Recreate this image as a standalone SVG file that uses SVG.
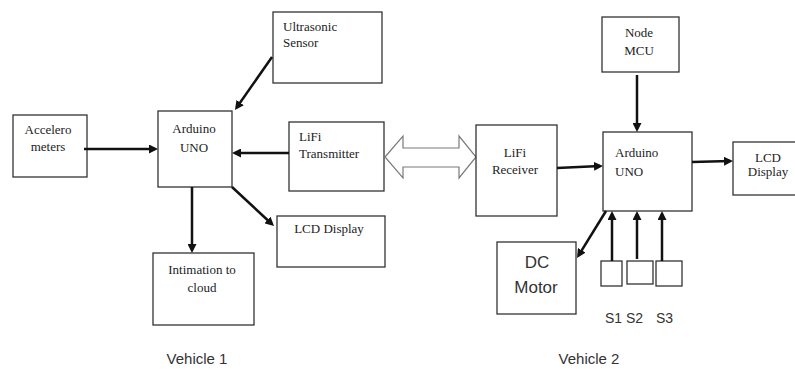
<svg xmlns="http://www.w3.org/2000/svg" width="795" height="369" viewBox="0 0 795 369">
<style>
.box{fill:#fff;stroke:#333;stroke-width:1.3}
.t{font-family:"Liberation Serif","Times New Roman",serif;font-size:13px;fill:#222}
.c{text-anchor:middle}
.s{font-family:"Liberation Sans",Arial,sans-serif;fill:#333}
.ln{stroke:#111;stroke-width:2.5;fill:none;marker-end:url(#ah)}
</style>
<defs>
<marker id="ah" markerUnits="userSpaceOnUse" viewBox="0 0 9 9" markerWidth="9" markerHeight="9" refX="6" refY="4.5" orient="auto">
<path d="M0,0 L9,4.5 L0,9 z" fill="#111"/>
</marker>
</defs>
<rect width="795" height="369" fill="#fff"/>

<g id="accelerometers">
<rect class="box" x="13" y="115" width="74" height="62"/>
<text class="t c" x="48" y="134">Accelero</text>
<text class="t c" x="48" y="151">meters</text>
</g>
<g id="arduino1">
<rect class="box" x="158" y="111" width="74" height="76"/>
<text class="t c" x="194" y="133">Arduino</text>
<text class="t c" x="194" y="152">UNO</text>
</g>
<g id="ultrasonic">
<rect class="box" x="273" y="12" width="109" height="71"/>
<text class="t" x="283" y="31">Ultrasonic</text>
<text class="t" x="283" y="47">Sensor</text>
</g>
<g id="lifi-tx">
<rect class="box" x="289" y="122" width="95" height="69"/>
<text class="t" x="299" y="141">LiFi</text>
<text class="t" x="299" y="158">Transmitter</text>
</g>
<g id="lcd1">
<rect class="box" x="277" y="216" width="108" height="51"/>
<text class="t c" x="329" y="233">LCD Display</text>
</g>
<g id="intimation">
<rect class="box" x="153" y="253" width="101" height="72"/>
<text class="t c" x="202" y="274">Intimation to</text>
<text class="t c" x="202" y="292">cloud</text>
</g>
<g id="lifi-link">
<polygon points="385,157 403,136 403,148 459,148 459,136 476,157 459,178 459,167 403,167 403,178" fill="#fff" stroke="#7a7a7a" stroke-width="1.2"/>
</g>
<g id="lifi-rx">
<rect class="box" x="476" y="125" width="81" height="91"/>
<text class="t c" x="515" y="157">LiFi</text>
<text class="t c" x="515" y="174">Receiver</text>
</g>
<g id="nodemcu">
<rect class="box" x="602" y="17" width="77" height="55"/>
<text class="t c" x="639" y="37">Node</text>
<text class="t c" x="639" y="55">MCU</text>
</g>
<g id="arduino2">
<rect class="box" x="603" y="132" width="89" height="79"/>
<text class="t" x="615" y="157">Arduino</text>
<text class="t" x="615" y="176">UNO</text>
</g>
<g id="lcd2">
<rect class="box" x="733" y="142" width="64" height="53"/>
<text class="t c" x="768" y="162">LCD</text>
<text class="t c" x="768" y="176">Display</text>
</g>
<g id="dcmotor">
<rect class="box" x="497" y="242" width="79" height="72"/>
<text class="s c" x="537" y="268" font-size="17">DC</text>
<text class="s c" x="536" y="293" font-size="17">Motor</text>
</g>
<g id="s1">
<rect class="box" x="601" y="261" width="21" height="25"/>
<text class="s" x="605" y="323" font-size="14">S1</text>
</g>
<g id="s2">
<rect class="box" x="627" y="261" width="26" height="23"/>
<text class="s" x="626" y="323" font-size="14">S2</text>
</g>
<g id="s3">
<rect class="box" x="656" y="261" width="26" height="25"/>
<text class="s" x="656" y="323" font-size="14">S3</text>
</g>

<g id="connectors">
<line class="ln" x1="84" y1="149" x2="155" y2="149"/>
<line class="ln" x1="272" y1="57" x2="236.7" y2="107.5"/>
<line class="ln" x1="289" y1="153" x2="235" y2="153"/>
<line class="ln" x1="192" y1="187" x2="192" y2="250"/>
<line class="ln" x1="232" y1="187" x2="271.8" y2="224"/>
<line class="ln" x1="557" y1="168" x2="600" y2="166.1"/>
<line class="ln" x1="637" y1="75" x2="637" y2="129"/>
<line class="ln" x1="692" y1="162" x2="730" y2="161.1"/>
<line class="ln" x1="606" y1="211" x2="578.6" y2="255.4"/>
<line class="ln" x1="612" y1="261" x2="612" y2="214"/>
<line class="ln" x1="637" y1="259" x2="637" y2="214"/>
<line class="ln" x1="662" y1="261" x2="662" y2="214"/>
</g>

<text class="s c" x="197" y="364" font-size="15">Vehicle 1</text>
<text class="s c" x="589" y="364" font-size="15">Vehicle 2</text>
</svg>
